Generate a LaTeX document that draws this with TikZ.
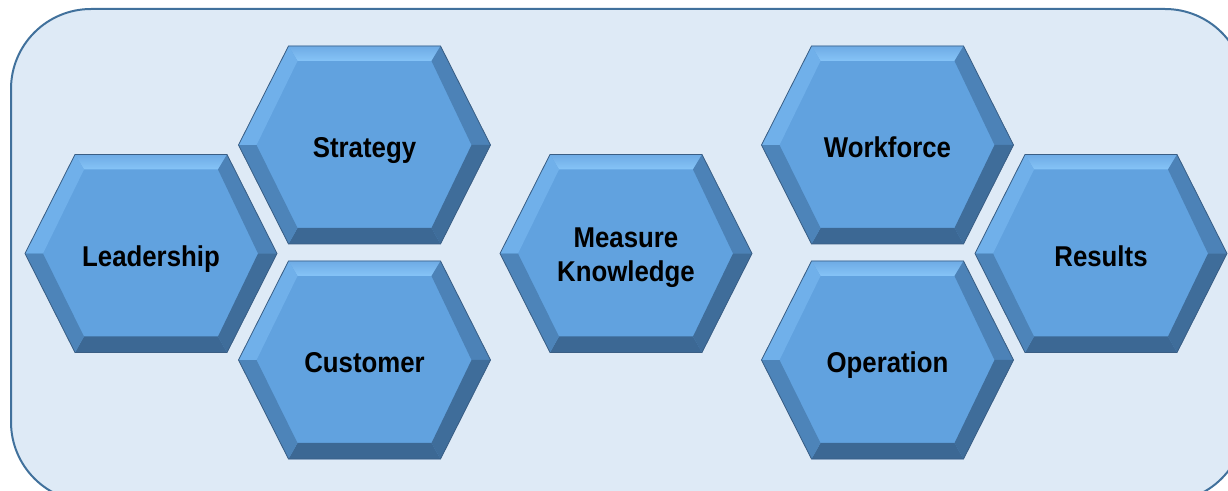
\documentclass[tikz,border=0pt]{standalone}
\usepackage{fontspec}
\setmainfont[FakeStretch=0.9]{Liberation Sans}
\usetikzlibrary{calc}
\definecolor{bgfill}{HTML}{DEEAF6}
\definecolor{bgline}{HTML}{41719C}
\definecolor{face}{HTML}{61A2DF}
\definecolor{bvtopout}{HTML}{6EABE5}
\definecolor{bvtopin}{HTML}{86C4F7}
\definecolor{bvul}{HTML}{70B0EA}
\definecolor{bvur}{HTML}{4C82B7}
\definecolor{bvlr}{HTML}{3F6D9A}
\definecolor{bvbot}{HTML}{3C6894}
\definecolor{bvll}{HTML}{4D84B9}
\definecolor{hexline}{HTML}{3A5E84}
\tikzset{
  hexlabel/.style={font=\bfseries\fontsize{21.5}{25.5}\selectfont, text=black, inner sep=0pt, align=center},
  hexedge/.style={draw=hexline, line width=0.6pt},
  panel/.style={fill=bgfill, draw=bgline, line width=1.5pt, rounded corners=60pt},
}
\newcommand\hexshape[1]{%
  \begin{scope}[shift={(#1)}]
    \fill[face] (-126,0) -- (-76,-99) -- (76,-99) -- (126,0) -- (76,99) -- (-76,99) -- cycle;
    \shade[top color=bvtopout, bottom color=bvtopin] (-76,-99) -- (76,-99) -- (67,-84) -- (-67,-84) -- cycle;
    \fill[bvur] (76,-99) -- (126,0) -- (107,0) -- (67,-84) -- cycle;
    \fill[bvlr] (126,0) -- (76,99) -- (67,83) -- (107,0) -- cycle;
    \fill[bvbot] (76,99) -- (-76,99) -- (-67,83) -- (67,83) -- cycle;
    \fill[bvll] (-76,99) -- (-126,0) -- (-108,0) -- (-67,83) -- cycle;
    \fill[bvul] (-126,0) -- (-76,-99) -- (-67,-84) -- (-108,0) -- cycle;
    \draw[hexedge] (-126,0) -- (-76,-99) -- (76,-99) -- (126,0) -- (76,99) -- (-76,99) -- cycle;
  \end{scope}}
\begin{document}
\begin{tikzpicture}[x=0.75pt,y=-0.75pt]
  \useasboundingbox (0,0) rectangle (1228,491);
  \clip (0,0) rectangle (1228,491);
  \path[panel] (11,9) rectangle (1245,502);
  \coordinate (cLead) at (151,253.5);
  \coordinate (cStrat) at (364.5,145);
  \coordinate (cCust) at (364.5,360);
  \coordinate (cMeas) at (626,253.5);
  \coordinate (cWork) at (887.5,145);
  \coordinate (cOper) at (887.5,360);
  \coordinate (cRes) at (1101,253.5);
  \foreach \c in {cLead,cStrat,cCust,cMeas,cWork,cOper,cRes} {\hexshape{\c}}
  \node[hexlabel, anchor=base] (lead) at ($(cLead)+(0,13)$) {Leadership};
  \node[hexlabel, anchor=base] (strat) at ($(cStrat)+(0,13)$) {Strategy};
  \node[hexlabel, anchor=base] (cust) at ($(cCust)+(0,13)$) {Customer};
  \node[hexlabel, anchor=center] (meas) at ($(cMeas)+(0,4.5)$) {Measure\\Knowledge};
  \node[hexlabel, anchor=base] (work) at ($(cWork)+(0,13)$) {Workforce};
  \node[hexlabel, anchor=base] (oper) at ($(cOper)+(0,13)$) {Operation};
  \node[hexlabel, anchor=base] (res) at ($(cRes)+(0,13)$) {Results};
\end{tikzpicture}
\end{document}
